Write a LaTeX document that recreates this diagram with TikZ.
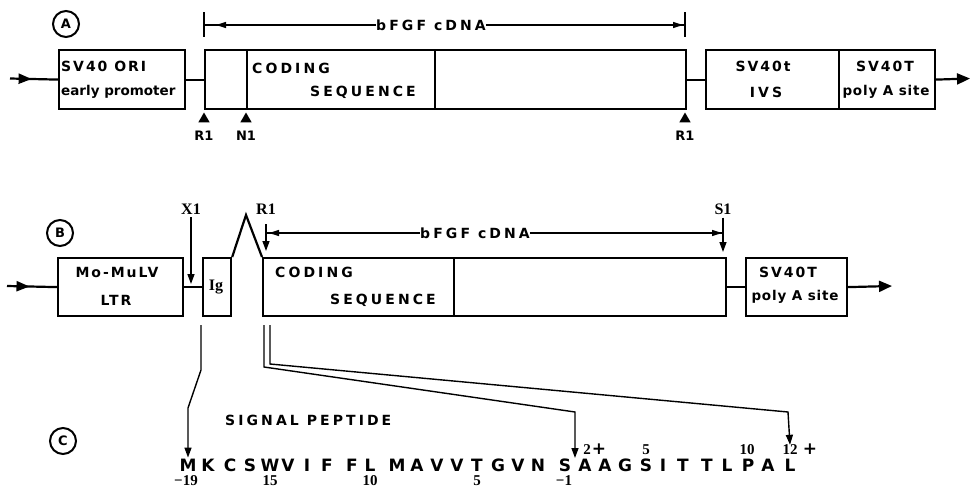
\documentclass[tikz,border=0pt]{standalone}
\usepackage{fontspec}
\setmainfont{DejaVu Sans}
\newfontfamily\bsans[LetterSpace=14]{DejaVu Sans}
\newfontfamily\msans[LetterSpace=6]{DejaVu Sans}
\newfontfamily\nsans{DejaVu Sans}
\newfontfamily\wsans[LetterSpace=22]{DejaVu Sans}
\newfontfamily\bserif{Liberation Serif}
\usetikzlibrary{arrows.meta,decorations.markings,shapes.geometric}
\tikzset{
  boxline/.style={line width=2.2pt, line join=miter},
  blk/.style={draw, boxline, inner sep=0pt, anchor=north west},
  conn/.style={line width=2.2pt},
  thin/.style={line width=1.4pt},
  lbl/.style={inner sep=0pt, font=\bsans\bfseries\fontsize{14}{16}\selectfont},
  lwr/.style={inner sep=0pt, font=\nsans\bfseries\fontsize{13.5}{15}\selectfont},
  mlbl/.style={inner sep=0pt, font=\msans\bfseries\fontsize{13.5}{15}\selectfont},
  wlbl/.style={inner sep=0pt, font=\wsans\bfseries\fontsize{14}{16}\selectfont},
  slbl/.style={inner sep=0pt, font=\nsans\bfseries\fontsize{13}{14}\selectfont},
  serlbl/.style={inner sep=0pt, font=\bserif\bfseries\fontsize{16}{17}\selectfont},
  numlbl/.style={inner sep=0pt, font=\bserif\bfseries\fontsize{15}{16}\selectfont},
  plus/.style={inner sep=0pt, font=\nsans\bfseries\fontsize{17}{17}\selectfont},
  aa/.style={inner sep=1pt, font=\nsans\bfseries\fontsize{17}{19}\selectfont},
  circ/.style={circle, draw, line width=2pt, minimum size=26pt, inner sep=0pt,
    font=\nsans\bfseries\fontsize{13}{13}\selectfont},
  site/.style={regular polygon, regular polygon sides=3, fill=black, inner sep=0pt, minimum size=13pt},
  midarrow/.style={postaction={decorate}, decoration={markings,
    mark=at position 0.45 with {\arrow{Triangle[length=13pt,width=10pt]}}}},
  tipend/.style={-{Triangle[length=13pt,width=11pt]}},
  smalltip/.style={-{Triangle[length=10pt,width=7pt]}},
  dimL/.style={postaction={decorate}, decoration={markings,
    mark=at position #1 with {\arrowreversed{Triangle[length=10pt,width=6pt]}}}},
  dimR/.style={postaction={decorate}, decoration={markings,
    mark=at position #1 with {\arrow{Triangle[length=10pt,width=6pt]}}}},
}
\begin{document}
\begin{tikzpicture}[x=1pt,y=-1pt]
\useasboundingbox (0,0) rectangle (970,490);

% ---------------- Row A ----------------
\node[circ] (cA) at (66,24) {A};
\coordinate (inA) at (10,78.5);
\node[blk, minimum width=126pt, minimum height=59pt] (aOri) at (58,49) {};
\node[blk, minimum width=42pt, minimum height=59pt] (aCD1) at (204,49) {};
\node[blk, minimum width=188pt, minimum height=59pt] (aCD2) at (246,49) {};
\node[blk, minimum width=251pt, minimum height=59pt] (aCD3) at (434,49) {};
\node[blk, minimum width=133pt, minimum height=59pt] (aIVS) at (705,49) {};
\node[blk, minimum width=96pt, minimum height=59pt] (aPA) at (838,49) {};
\coordinate (outA) at (970,78.5);

\node[lbl, anchor=west] (tOri1) at (61,66) {SV40 ORI};
\node[lwr, anchor=west] (tOri2) at (61,92) {early promoter};
\node[wlbl, anchor=west] (tCodA) at (252,68) {CODING};
\node[wlbl, anchor=west] (tSeqA) at (310,92) {SEQUENCE};
\node[lbl] (tIVS1) at (763,66) {SV40t};
\node[wlbl] (tIVS2) at (766,92) {IVS};
\node[lbl] (tPA1) at (885,66) {SV40T};
\node[mlbl] (tPA2) at (886,92) {poly A site};

\draw[conn, midarrow] (inA) -- (aOri.west);
\draw[conn] (aOri.east) -- (aCD1.west);
\draw[conn] (aCD3.east) -- (aIVS.west);
\draw[conn, tipend] (aPA.east) -- (outA);

\node[site] (sR1a) at (204,119) {};
\node[site] (sN1a) at (246,119) {};
\node[site] (sR1b) at (685,119) {};
\node[slbl] (lR1a) at (204,136) {R1};
\node[slbl] (lN1a) at (246,136) {N1};
\node[slbl] (lR1b) at (685,136) {R1};

% dimension line A
\coordinate (dAlt) at (204,12); \coordinate (dAlb) at (204,37);
\coordinate (dArt) at (685,12); \coordinate (dArb) at (685,37);
\coordinate (dAl) at (204,25); \coordinate (dAr) at (685,25);
\draw[thin] (dAlt) -- (dAlb);
\draw[thin] (dArt) -- (dArb);
\node[wlbl] (dAlab) at (431,25) {bFGF cDNA};
\draw[thin, dimL=12pt] (dAl) -- (dAlab.west);
\draw[thin, dimR=-2pt] (dAlab.east) -- (dAr);

% ---------------- Row B ----------------
\node[circ] (cB) at (60,233) {B};
\coordinate (inB) at (7,286);
\node[blk, minimum width=125pt, minimum height=58pt] (bLTR) at (57,257) {};
\node[blk, minimum width=28pt, minimum height=58pt] (bIg) at (202,257) {};
\node[blk, minimum width=191pt, minimum height=58pt] (bCS) at (262,257) {};
\node[blk, minimum width=272pt, minimum height=58pt] (bCD) at (453,257) {};
\node[blk, minimum width=101pt, minimum height=58pt] (bPA) at (745,257) {};
\coordinate (outB) at (892,286);
\coordinate (apex) at (246,215);

\node[lbl] (tLTR1) at (117,272) {Mo-MuLV};
\node[lbl] (tLTR2) at (116,300) {LTR};
\node[serlbl] (tIg) at (216,287) {Ig};
\node[wlbl, anchor=west] (tCodB) at (275,272) {CODING};
\node[wlbl, anchor=west] (tSeqB) at (330,300) {SEQUENCE};
\node[lbl] (tPB1) at (788,272) {SV40T};
\node[mlbl] (tPB2) at (795,297) {poly A site};

\draw[conn, midarrow] (inB) -- (bLTR.west);
\draw[conn] (bLTR.east) -- (bIg.west);
\draw[boxline] (bIg.north east) -- (apex) -- (bCS.north west);
\draw[conn] (bCD.east) -- (bPA.west);
\draw[conn, tipend] (bPA.east) -- (outB);

\node[serlbl] (lX1) at (191,209) {X1};
\node[serlbl] (lR1B) at (266,209) {R1};
\node[serlbl] (lS1) at (723,209) {S1};
\coordinate (xTip) at (191,284);
\coordinate (rTip) at (266,251);
\coordinate (sTip) at (723,252);
\draw[thin, smalltip] (lX1.south) ++(0,3) -- (xTip);
\draw[thin, smalltip] (lR1B.south) ++(0,10) -- (rTip);
\draw[thin, smalltip] (lS1.south) ++(0,3) -- (sTip);

\coordinate (dBl) at (266,233); \coordinate (dBr) at (723,233);
\node[wlbl] (dBlab) at (475,233) {bFGF cDNA};
\draw[thin, dimL=3pt] (dBl) -- (dBlab.west);
\draw[thin, dimR=-1pt] (dBlab.east) -- (dBr);

% ---------------- Row C ----------------
\node[circ] (cC) at (63,441) {C};
\node[wlbl, anchor=west] (tSig) at (225,420) {SIGNAL PEPTIDE};

\foreach \x/\l [count=\i] in {188/M,208/K,230/C,250/S,270/W,288/V,307/I,327/F,352/F,370/L,397/M,417/A,437/V,457/V,477/T,498/G,518/V,538/N,565/S,585/A,605/A,625/G,646/S,663/I,683/T,707/T,727/L,748/P,768/A,790/L}
  \node[aa] (q\i) at (\x,465) {\l};

\node[numlbl] (nm19) at (186,481) {\textminus19};
\node[numlbl] (n15) at (270,481) {15};
\node[numlbl] (n10) at (370,481) {10};
\node[numlbl] (n5) at (477,481) {5};
\node[numlbl] (nm1) at (564,481) {\textminus1};
\node[numlbl] (n2) at (587,450) {2};
\node[plus] (p2) at (599,449) {+};
\node[numlbl] (n5b) at (646,450) {5};
\node[numlbl] (n10b) at (747,450) {10};
\node[numlbl] (n12) at (790,450) {12};
\node[plus] (p12) at (810,449) {+};

% connectors B -> C
\coordinate (igOut) at (201,325);
\coordinate (igBend1) at (201,370);
\coordinate (igBend2) at (188,408);
\draw[thin, smalltip] (igOut) -- (igBend1) -- (igBend2) -- (q1.north);

\coordinate (c1a) at (264,325);
\coordinate (c1b) at (264,367);
\coordinate (c1c) at (575,412);
\coordinate (c1d) at (575,458);
\draw[thin, smalltip] (c1a) -- (c1b) -- (c1c) -- (c1d);

\coordinate (c2a) at (270,325);
\coordinate (c2b) at (270,364);
\coordinate (c2c) at (788,412);
\draw[thin, smalltip] (c2a) -- (c2b) -- (c2c) -- (n12.north);
\end{tikzpicture}
\end{document}
